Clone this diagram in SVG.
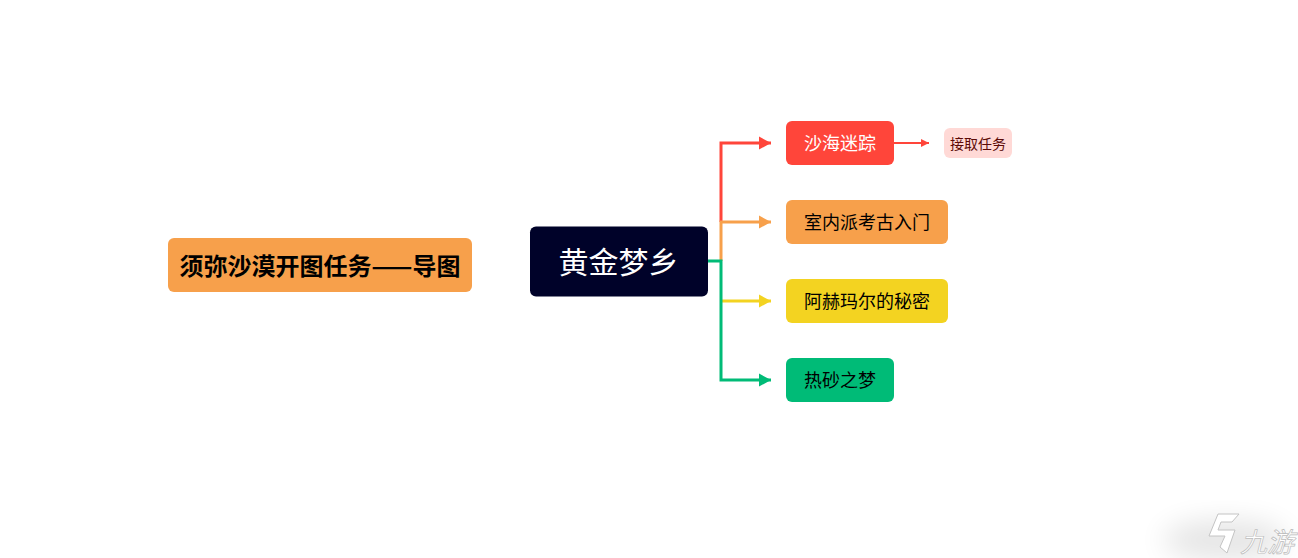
<svg xmlns="http://www.w3.org/2000/svg" width="1298" height="558" viewBox="0 0 1298 558">
<style>
text{font-family:"Noto Sans CJK SC","Microsoft YaHei",sans-serif;text-anchor:middle;dominant-baseline:central}
.c{fill:none;stroke-width:3}
.t{font-size:18px}
</style>
<defs>
<marker id="ar" markerUnits="userSpaceOnUse" markerWidth="14" markerHeight="14" refX="12" refY="7" orient="auto"><path d="M0 0.500L12 7L0 13.500Z" fill="#ff453a"/></marker>
<marker id="ao" markerUnits="userSpaceOnUse" markerWidth="14" markerHeight="14" refX="12" refY="7" orient="auto"><path d="M0 0.500L12 7L0 13.500Z" fill="#f7a04b"/></marker>
<marker id="ay" markerUnits="userSpaceOnUse" markerWidth="14" markerHeight="14" refX="12" refY="7" orient="auto"><path d="M0 0.500L12 7L0 13.500Z" fill="#f3d321"/></marker>
<marker id="ag" markerUnits="userSpaceOnUse" markerWidth="14" markerHeight="14" refX="12" refY="7" orient="auto"><path d="M0 0.500L12 7L0 13.500Z" fill="#00bb77"/></marker>
<marker id="as" markerUnits="userSpaceOnUse" markerWidth="10" markerHeight="10" refX="8" refY="5" orient="auto"><path d="M0 1L8 5L0 9Z" fill="#ff453a"/></marker>
<filter id="bl" x="-50%" y="-50%" width="200%" height="200%"><feGaussianBlur stdDeviation="14"/></filter>
</defs>
<rect width="1298" height="558" fill="#fff"/>
<g id="connectors">
<path class="c" stroke="#ff453a" d="M721 222V143H771" marker-end="url(#ar)"/>
<path class="c" stroke="#f7a04b" d="M721 261V222H771" marker-end="url(#ao)"/>
<path class="c" stroke="#f3d321" d="M721 301H771" marker-end="url(#ay)"/>
<path class="c" stroke="#00bb77" d="M708 261H721V380H771" marker-end="url(#ag)"/>
<path fill="none" stroke="#ff453a" stroke-width="2" d="M894 143H929" marker-end="url(#as)"/>
</g>
<g id="title"><rect x="168" y="238" width="304" height="54" rx="6" fill="#f7a04b"/><text x="320" y="264" font-size="24" font-weight="700" fill="#000">须弥沙漠开图任务——导图</text></g>
<g id="root"><rect x="530" y="226.500" width="178" height="70" rx="6" fill="#000229"/><text x="618.500" y="260" font-size="30" fill="#fff">黄金梦乡</text></g>
<g id="n1"><rect x="786" y="121" width="108" height="44" rx="6" fill="#ff453a"/><text class="t" x="840" y="142" fill="#fff">沙海迷踪</text></g>
<g id="n1a"><rect x="944" y="128" width="68" height="30" rx="6" fill="#ffd9d6"/><text x="978" y="142.500" font-size="14" fill="#5c0a06">接取任务</text></g>
<g id="n2"><rect x="786" y="200" width="162" height="44" rx="6" fill="#f7a04b"/><text class="t" x="867" y="221" fill="#000">室内派考古入门</text></g>
<g id="n3"><rect x="786" y="279" width="162" height="44" rx="6" fill="#f3d321"/><text class="t" x="867" y="300" fill="#000">阿赫玛尔的秘密</text></g>
<g id="n4"><rect x="786" y="358" width="108" height="44" rx="6" fill="#00bb77"/><text class="t" x="840" y="379" fill="#000">热砂之梦</text></g>
<g id="watermark">
<ellipse cx="1225" cy="540" rx="62" ry="20" fill="#000" opacity="0.1" filter="url(#bl)"/>
<path d="M1218 514H1239L1232 522L1221 522L1218 530H1235L1227 553L1220 547L1225 536H1209Z" fill="#fff" stroke="#c4c4c4" stroke-width="1"/>
<text x="1267" y="540" font-size="27" font-style="italic" fill="#fff" stroke="#bdbdbd" stroke-width="0.700">九游</text>
</g>
</svg>
